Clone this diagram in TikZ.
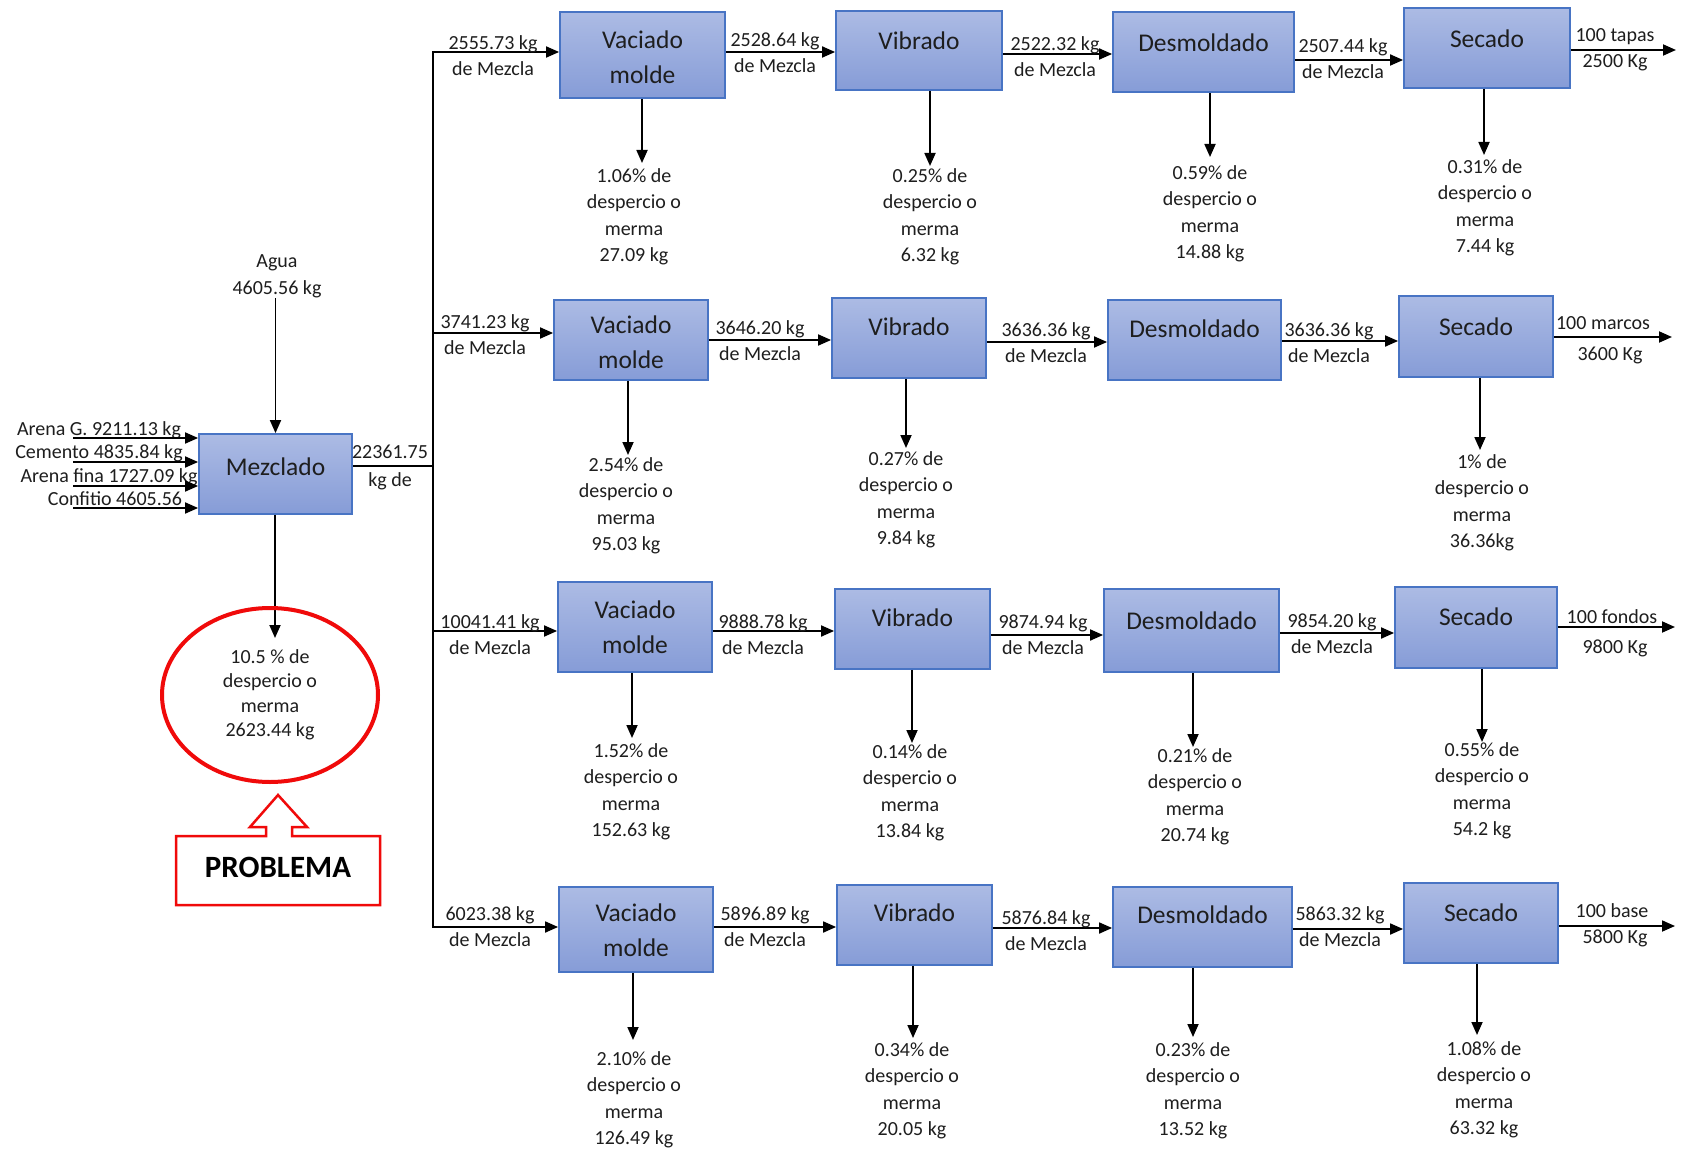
\documentclass[tikz,border=0pt]{standalone}
\usepackage{fontspec}
\setmainfont{Carlito}
\usetikzlibrary{arrows.meta,shapes.geometric}
\definecolor{boxtop}{RGB}{172,187,228}
\definecolor{boxbot}{RGB}{134,156,215}
\definecolor{boxline}{RGB}{72,116,196}
\definecolor{txt}{RGB}{30,30,30}
\definecolor{alert}{RGB}{240,10,10}

% process box given by its corners, with its caption at height #6
\newcommand\procbox[7]{%
  \node[proc, minimum width={#4-#2}, minimum height={#5-#3}] (#1) at ({(#2+#4)/2},{(#3+#5)/2}) {};
  \node[boxtxt] (#1-t) at ({(#2+#4)/2},#6) {#7};}

% waste output below a box: box, name, arrow x, tip y, text x, first line y, text
\newcommand\wastearrow[7]{%
  \coordinate (#2-tip) at (#3,#4);
  \draw[arr] (#1.south -| #2-tip) -- (#2-tip);
  \node[waste] (#2) at (#5,{#6-8.5}) {#7};}

\begin{document}
\begin{tikzpicture}[x=1pt,y=-1pt,
  arr/.style={line width=1.8pt, -{Triangle[length=13pt,width=11pt]}},
  ln/.style={line width=1.8pt},
  proc/.style={rectangle, draw=boxline, line width=1.8pt, top color=boxtop, bottom color=boxbot, inner sep=0pt},
  boxtxt/.style={font=\fontsize{25.5}{35}\selectfont, align=center, inner sep=0pt, text=txt},
  lab/.style={font=\fontsize{20}{26}\selectfont, align=center, inner sep=0pt, text=txt},
  waste/.style={font=\fontsize{20}{26.3}\selectfont, align=center, inner sep=0pt, anchor=north, text=txt},
]
\useasboundingbox (0,0) rectangle (1681,1150);
\fill[white] (0,0) rectangle (1681,1150);

% ---------- mixing stage ----------
\procbox{M}{199}{434}{352}{514}{467}{Mezclado}

\node[lab] (agua) at (277,276.5) {Agua\\[1pt]4605.56 kg};
\draw[arr] (M.north |- agua.south) -- (M.north);

\node[lab] (inA) at (99,430) {Arena G. 9211.13 kg};
\node[lab] (inC) at (99,453) {Cemento 4835.84 kg};
\node[lab] (inF) at (109,477) {Arena fina 1727.09 kg};
\node[lab] (inK) at (115,499) {Confitio 4605.56};
\coordinate (a1) at (73,438);
\coordinate (a2) at (73,462);
\coordinate (a3) at (73,486);
\coordinate (a4) at (73,508);
\foreach \c in {a1,a2,a3,a4} \draw[arr] (\c) -- (M.west |- \c);

% waste of the mixing stage
\coordinate (w0tip) at (275,638);
\draw[arr] (M.south -| w0tip) -- (w0tip);
\node[ellipse, draw=alert, line width=4pt, minimum width=216, minimum height=174,
      inner sep=0pt, align=center, text=txt, font=\fontsize{20}{24.5}\selectfont]
      (W0) at (270,695) {10.5 \% de\\despercio o\\merma\\2623.44 kg};

% problem callout
\draw[alert, line width=2.5pt, line join=miter]
  (176,836) -- (266,836) -- (266,827) -- (250,827) -- (278,795) -- (307,827)
  -- (292,827) -- (292,836) -- (380,836) -- (380,905) -- (176,905) -- cycle;
\node[font=\fontsize{31}{36}\selectfont\bfseries, inner sep=0pt] (prob) at (278,867) {PROBLEMA};

% ---------- distribution bus ----------
\coordinate (busT) at (433,52);
\coordinate (busM) at (433,466);
\coordinate (bus2) at (433,333);
\coordinate (bus3) at (433,631);
\coordinate (busB) at (433,927);
\draw[ln] (M.east |- busM) -- (busM);
\node[lab] (tot) at (390,467) {22361.75\\[2pt]kg de};

% ---------- row 1 : tapas ----------
\procbox{V1}{560}{12}{725}{98}{57.5}{Vaciado\\molde}
\procbox{B1}{836}{11}{1002}{90}{41}{Vibrado}
\procbox{D1}{1113}{12}{1294}{92}{43}{Desmoldado}
\procbox{S1}{1404}{8}{1570}{88}{39}{Secado}
\coordinate (o1) at (1676,50);
\draw[arr] (busM) |- (V1.west |- busT);
\draw[arr] (V1.east |- 0,52) -- (B1.west |- 0,52);
\draw[arr] (B1.east |- 0,54) -- (D1.west |- 0,54);
\draw[arr] (D1.east |- 0,60) -- (S1.west |- 0,60);
\draw[arr] (S1.east |- o1) -- (o1);
\node[lab] (l11) at (493,55.5) {2555.73 kg\\de Mezcla};
\node[lab] (l12) at (775,53) {2528.64 kg\\de Mezcla};
\node[lab] (l13) at (1055,56.5) {2522.32 kg\\de Mezcla};
\node[lab] (l14) at (1343,59) {2507.44 kg\\de Mezcla};
\node[lab] (l15a) at (1615,37) {100 tapas};
\node[lab] (l15b) at (1615,63) {2500 Kg};
\wastearrow{V1}{w11}{642}{163}{634}{177}{1.06\% de\\despercio o\\merma\\27.09 kg}
\wastearrow{B1}{w12}{930}{166}{930}{177}{0.25\% de\\despercio o\\merma\\6.32 kg}
\wastearrow{D1}{w13}{1210}{157}{1210}{174}{0.59\% de\\despercio o\\merma\\14.88 kg}
\wastearrow{S1}{w14}{1484}{155}{1485}{168}{0.31\% de\\despercio o\\merma\\7.44 kg}

% ---------- row 2 : marcos ----------
\procbox{V2}{554}{300}{708}{380}{342.5}{Vaciado\\molde}
\procbox{B2}{832}{298}{986}{378}{327}{Vibrado}
\procbox{D2}{1108}{300}{1281}{380}{329}{Desmoldado}
\procbox{S2}{1399}{296}{1553}{377}{327}{Secado}
\coordinate (o2) at (1672,337);
\draw[arr] (bus2) -- (bus2 -| V2.west);
\draw[arr] (V2.east |- 0,340) -- (B2.west |- 0,340);
\draw[arr] (B2.east |- 0,342) -- (D2.west |- 0,342);
\draw[arr] (D2.east |- 0,341) -- (S2.west |- 0,341);
\draw[arr] (S2.east |- o2) -- (o2);
\node[lab] (l21) at (485,334.5) {3741.23 kg\\de Mezcla};
\node[lab] (l22) at (760,341) {3646.20 kg\\de Mezcla};
\node[lab] (l23) at (1046,342.5) {3636.36 kg\\de Mezcla};
\node[lab] (l24) at (1329,343) {3636.36 kg\\de Mezcla};
\node[lab] (l25a) at (1603,323) {100 marcos};
\node[lab] (l25b) at (1610,355) {3600 Kg};
\wastearrow{V2}{w21}{628}{455}{626}{466}{2.54\% de\\despercio o\\merma\\95.03 kg}
\wastearrow{B2}{w22}{906}{448}{906}{460}{0.27\% de\\despercio o\\merma\\9.84 kg}
\wastearrow{S2}{w24}{1480}{450}{1482}{463}{1\% de\\despercio o\\merma\\36.36kg}

% ---------- row 3 : fondos ----------
\procbox{V3}{558}{582}{712}{672}{627}{Vaciado\\molde}
\procbox{B3}{835}{589}{990}{669}{618}{Vibrado}
\procbox{D3}{1104}{589}{1279}{672}{621}{Desmoldado}
\procbox{S3}{1395}{587}{1557}{668}{617}{Secado}
\coordinate (o3) at (1675,627);
\draw[arr] (bus3) -- (bus3 -| V3.west);
\draw[arr] (V3.east |- 0,631) -- (B3.west |- 0,631);
\draw[arr] (B3.east |- 0,635) -- (D3.west |- 0,635);
\draw[arr] (D3.east |- 0,633) -- (S3.west |- 0,633);
\draw[arr] (S3.east |- o3) -- (o3);
\node[lab] (l31) at (490,634.5) {10041.41 kg\\de Mezcla};
\node[lab] (l32) at (763,634.5) {9888.78 kg\\de Mezcla};
\node[lab] (l33) at (1043,634.5) {9874.94 kg\\de Mezcla};
\node[lab] (l34) at (1332,633.5) {9854.20 kg\\de Mezcla};
\node[lab] (l35a) at (1612,617) {100 fondos};
\node[lab] (l35b) at (1615,648) {9800 Kg};
\wastearrow{V3}{w31}{632}{738}{631}{752}{1.52\% de\\despercio o\\merma\\152.63 kg}
\wastearrow{B3}{w32}{912}{743}{910}{753}{0.14\% de\\despercio o\\merma\\13.84 kg}
\wastearrow{D3}{w33}{1193}{747}{1195}{757}{0.21\% de\\despercio o\\merma\\20.74 kg}
\wastearrow{S3}{w34}{1482}{742}{1482}{751}{0.55\% de\\despercio o\\merma\\54.2 kg}

% ---------- row 4 : base ----------
\procbox{V4}{559}{887}{713}{972}{930}{Vaciado\\molde}
\procbox{B4}{837}{885}{992}{965}{913}{Vibrado}
\procbox{D4}{1113}{887}{1292}{967}{915}{Desmoldado}
\procbox{S4}{1404}{883}{1558}{963}{913}{Secado}
\coordinate (o4) at (1675,926);
\draw[arr] (busM) |- (V4.west |- busB);
\draw[arr] (V4.east |- 0,927) -- (B4.west |- 0,927);
\draw[arr] (B4.east |- 0,928) -- (D4.west |- 0,928);
\draw[arr] (D4.east |- 0,929) -- (S4.west |- 0,929);
\draw[arr] (S4.east |- o4) -- (o4);
\node[lab] (l41) at (490,926.5) {6023.38 kg\\de Mezcla};
\node[lab] (l42) at (765,926.5) {5896.89 kg\\de Mezcla};
\node[lab] (l43) at (1046,931) {5876.84 kg\\de Mezcla};
\node[lab] (l44) at (1340,927) {5863.32 kg\\de Mezcla};
\node[lab] (l45a) at (1612,911) {100 base};
\node[lab] (l45b) at (1615,938) {5800 Kg};
\wastearrow{V4}{w41}{633}{1040}{634}{1060}{2.10\% de\\despercio o\\merma\\126.49 kg}
\wastearrow{B4}{w42}{913}{1038}{912}{1051}{0.34\% de\\despercio o\\merma\\20.05 kg}
\wastearrow{D4}{w43}{1193}{1037}{1193}{1051}{0.23\% de\\despercio o\\merma\\13.52 kg}
\wastearrow{S4}{w44}{1477}{1035}{1484}{1050}{1.08\% de\\despercio o\\merma\\63.32 kg}
\end{tikzpicture}
\end{document}
